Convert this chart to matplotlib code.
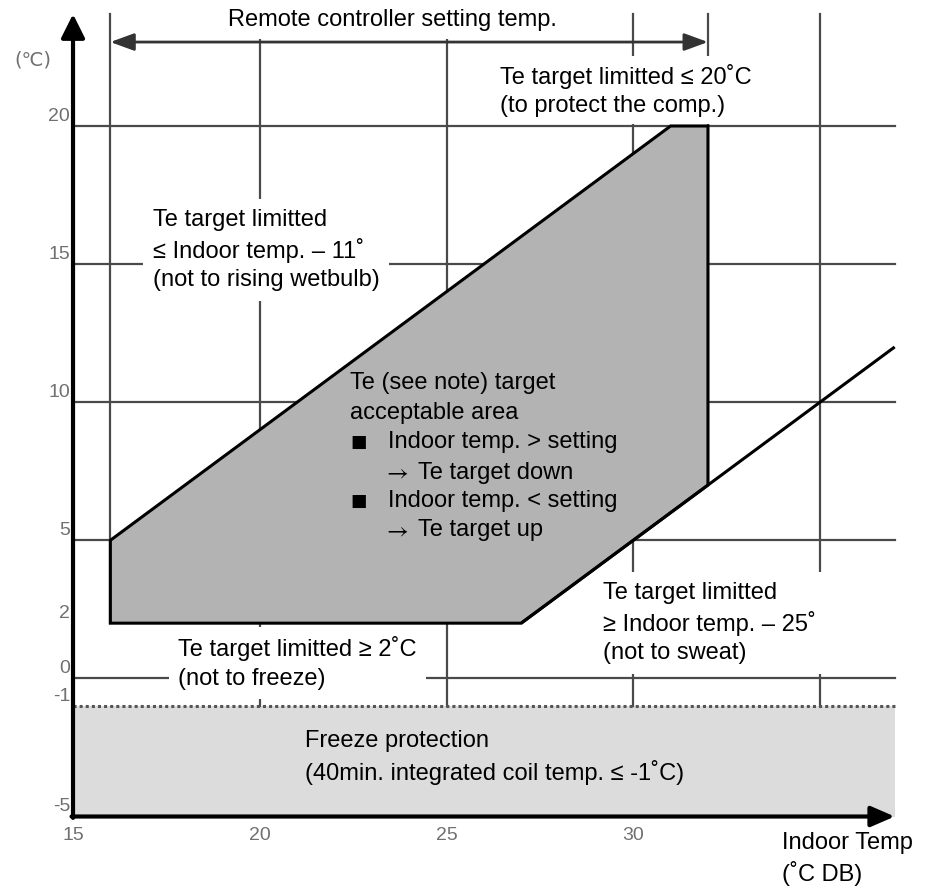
import matplotlib
matplotlib.use('Agg')
import matplotlib.pyplot as plt
from matplotlib.patches import Polygon

plt.rcParams['font.family'] = ['Liberation Sans', 'DejaVu Sans']

# ---- data ----
x_ticks = [15, 20, 25, 30]
y_ticks = [20, 15, 10, 5, 2, 0, -1, -5]
grid_x_full = [20, 25, 30, 35]
grid_y = [20, 15, 10, 5, 0]
setting_min, setting_max = 16, 32
te_upper_limit = 20
te_lower_limit = 2
freeze_temp = -1
axis_x_min, axis_x_max = 15, 37
axis_y_min, axis_y_max = -5, 24.05

# acceptable area vertices (indoor temp, Te target)
area_x = [16, 16, 31, 32, 32, 27]
area_y = [2, 5, 20, 20, 7, 2]
# sweat limit line: Te = indoor - 25
sweat_x = [27, 37]
sweat_y = [2, 12]

# ---- figure ----
W, H = 927, 891
fig = plt.figure(figsize=(W / 100, H / 100), dpi=100)
ax = fig.add_axes([0, 0, 1, 1])
ax.set_xlim(13.045, 37.865)
ax.set_ylim(-7.697, 24.562)
ax.axis('off')

grid_c = '#4a4a4a'
grid_lw = 1.6

# vertical grid lines
for gx in grid_x_full:
    ax.plot([gx, gx], [freeze_temp, axis_y_max], color=grid_c, lw=grid_lw, zorder=1)
ax.plot([setting_min, setting_min], [te_lower_limit, axis_y_max], color=grid_c, lw=grid_lw, zorder=1)
ax.plot([setting_max, setting_max], [7, axis_y_max], color=grid_c, lw=grid_lw, zorder=1)
# horizontal grid lines
for gy in grid_y:
    ax.plot([axis_x_min, axis_x_max], [gy, gy], color=grid_c, lw=grid_lw, zorder=1)

# freeze protection zone
ax.fill_between([axis_x_min, axis_x_max], axis_y_min, freeze_temp, color='#dcdcdc', lw=0, zorder=0.5)
ax.plot([axis_x_min, axis_x_max], [freeze_temp, freeze_temp], color='#555555', lw=2.2,
        ls=(0, (1, 1)), zorder=3)

# acceptable area
poly = Polygon(list(zip(area_x, area_y)), closed=True, fc='#b3b3b3', ec='black', lw=2.2,
               zorder=2, joinstyle='miter')
ax.add_patch(poly)
ax.plot(sweat_x, sweat_y, color='black', lw=2.2, zorder=2.5, solid_capstyle='butt')

# axes with arrows
ax.annotate('', xy=(axis_x_max, axis_y_min), xytext=(axis_x_min - 0.04, axis_y_min),
            arrowprops=dict(arrowstyle='-|>,head_length=0.6,head_width=0.26', lw=3,
                            color='black', mutation_scale=24, shrinkA=0, shrinkB=0),
            zorder=5)
ax.annotate('', xy=(axis_x_min, axis_y_max), xytext=(axis_x_min, axis_y_min - 0.05),
            arrowprops=dict(arrowstyle='-|>,head_length=0.6,head_width=0.3', lw=3,
                            color='black', mutation_scale=24, shrinkA=0, shrinkB=0),
            zorder=5)

# remote controller setting range arrow
ax.annotate('', xy=(setting_max, 23.04), xytext=(setting_min, 23.04),
            arrowprops=dict(arrowstyle='<|-|>,head_length=0.6,head_width=0.22', lw=2,
                            color='#333333', mutation_scale=24, shrinkA=0, shrinkB=0),
            zorder=5)

# tick labels
tick_c = '#707070'
for yt in y_ticks:
    ax.text(14.92, yt + 0.36, str(yt), ha='right', va='center', fontsize=14,
            color=tick_c, zorder=6)
for xt in x_ticks:
    ax.text(xt, -5.67, str(xt), ha='center', va='center', fontsize=14,
            color=tick_c, zorder=6)
ax.text(13.93, 22.39, '(℃)', ha='center', va='center', fontsize=14, color=tick_c,
        family=['DejaVu Sans'], zorder=6)

# annotations
fs = 17
ls = 1.36
white = dict(boxstyle='square,pad=0.4', fc='white', ec='none')

ax.text(23.54, 23.84, 'Remote controller setting temp.', ha='center', va='center',
        fontsize=fs, bbox=dict(boxstyle='square,pad=0.35', fc='white', ec='none'), zorder=4)
ax.text(26.43, 21.30, 'Te target limitted \u2264 20\u02daC\n(to protect the comp.)',
        ha='left', va='center', fontsize=fs, linespacing=ls,
        bbox=dict(boxstyle='square,pad=0.3', fc='white', ec='none'), zorder=4)
ax.text(17.14, 15.51, 'Te target limitted\n\u2264 Indoor temp. \u2013 11\u02da\n(not to rising wetbulb)',
        ha='left', va='center', fontsize=fs, linespacing=ls, bbox=white, zorder=4)
ax.text(29.19, 2.006, 'Te target limitted\n\u2265 Indoor temp. \u2013 25\u02da\n(not to sweat)',
        ha='left', va='center', fontsize=fs, linespacing=ls, bbox=white, zorder=4)
ax.text(17.81, 0.558, 'Te target limitted \u2265 2\u02daC\n(not to freeze)',
        ha='left', va='center', fontsize=fs, linespacing=ls, bbox=white, zorder=4)
ax.text(21.21, -2.864, 'Freeze protection\n(40min. integrated coil temp. \u2264 -1\u02daC)',
        ha='left', va='center', fontsize=fs, linespacing=ls, zorder=4)
ax.text(33.98, -6.54, 'Indoor Temp\n(\u02daC DB)', ha='left', va='center',
        fontsize=fs, linespacing=ls, zorder=4)

# center note
x_left, x_ind, x_after_arrow = 22.42, 23.43, 24.23
ax.text(x_left, 10.70, 'Te (see note) target', ha='left', va='center', fontsize=fs, zorder=4)
ax.text(x_left, 9.61, 'acceptable area', ha='left', va='center', fontsize=fs, zorder=4)
ax.text(x_left, 8.56, '\u25a0', ha='left', va='center', fontsize=12.5, family=['DejaVu Sans'], zorder=4)
ax.text(x_ind, 8.56, 'Indoor temp. > setting', ha='left', va='center', fontsize=fs, zorder=4)
ax.text(x_ind - 0.12, 7.44, r'$\rightarrow$', ha='left', va='center', fontsize=fs, math_fontfamily='stix', zorder=4)
ax.text(x_after_arrow, 7.44, 'Te target down', ha='left', va='center', fontsize=fs, zorder=4)
ax.text(x_left, 6.42, '\u25a0', ha='left', va='center', fontsize=12.5, family=['DejaVu Sans'], zorder=4)
ax.text(x_ind, 6.42, 'Indoor temp. < setting', ha='left', va='center', fontsize=fs, zorder=4)
ax.text(x_ind - 0.12, 5.37, r'$\rightarrow$', ha='left', va='center', fontsize=fs, math_fontfamily='stix', zorder=4)
ax.text(x_after_arrow, 5.37, 'Te target up', ha='left', va='center', fontsize=fs, zorder=4)

fig.savefig('out.png', dpi=100, facecolor='white')
